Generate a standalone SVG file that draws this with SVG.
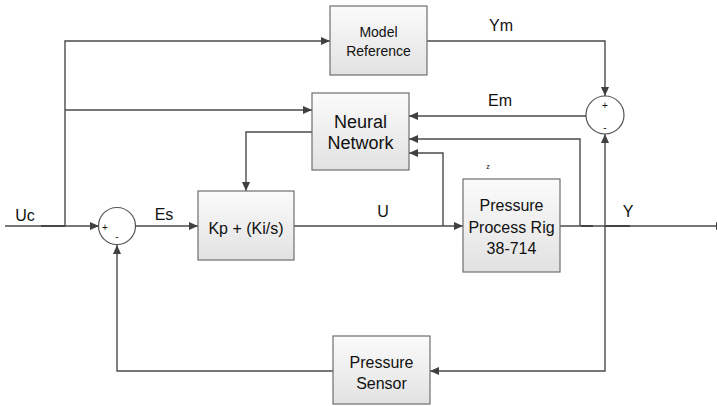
<svg xmlns="http://www.w3.org/2000/svg" width="717" height="406" viewBox="0 0 717 406">
<defs>
<linearGradient id="g" x1="0" y1="0" x2="0" y2="1">
<stop offset="0" stop-color="#fbfbfb"/>
<stop offset="1" stop-color="#e2e2e2"/>
</linearGradient>
<marker id="a" markerWidth="10" markerHeight="8" refX="9" refY="4" orient="auto" markerUnits="userSpaceOnUse">
<path d="M0,0 L9,4 L0,8 Z" fill="#404040"/>
</marker>
<style>
.box{fill:url(#g);stroke:#6e6e6e;stroke-width:1.2}
.sum{fill:#fff;stroke:#555;stroke-width:1.2}
.c{fill:none;stroke:#4a4a4a;stroke-width:1.4}
.c path.ar{marker-end:url(#a)}
text{font-family:"Liberation Sans",Arial,sans-serif;fill:#111;text-anchor:middle}
.bt{font-size:16px}
.lb{font-size:16px}
.sg{font-size:10px}
</style>
</defs>
<rect width="717" height="406" fill="#fff"/>
<g id="connectors" class="c">
<path class="ar" d="M5 226 H99"/>
<path d="M41 226 H65" stroke="#333"/>
<path class="ar" d="M65 226 V41 H330"/>
<path class="ar" d="M65 110 H312"/>
<path class="ar" d="M312 132 H246 V191"/>
<path class="ar" d="M136 226 H198"/>
<path class="ar" d="M294 226 H463"/>
<path class="ar" d="M560 226 H725"/>
<path d="M581 226 H593 M605 226 H630" stroke="#333"/>
<path class="ar" d="M427 41 H605 V96"/>
<path class="ar" d="M586 116 H409"/>
<path class="ar" d="M580 226 V139 H409"/>
<path class="ar" d="M443 226 V153 H409"/>
<path class="ar" d="M605 226 V134"/>
<path class="ar" d="M605 226 V371 H430"/>
<path class="ar" d="M333 371 H117 V245"/>
</g>
<g id="model-reference">
<rect class="box" x="330" y="6" width="97" height="69"/>
<text x="378.5" y="37" font-size="14">Model</text>
<text x="378.5" y="56" font-size="14">Reference</text>
</g>
<g id="neural-network">
<rect class="box" x="312" y="93" width="97" height="77"/>
<text x="360.5" y="128" font-size="18">Neural</text>
<text x="360.5" y="149" font-size="18">Network</text>
</g>
<g id="controller">
<rect class="box" x="198" y="191" width="96" height="69"/>
<text class="bt" x="246" y="234">Kp + (Ki/s)</text>
</g>
<g id="process-rig">
<rect class="box" x="463" y="179" width="97" height="93"/>
<text class="bt" x="511.5" y="211">Pressure</text>
<text class="bt" x="511.5" y="233">Process Rig</text>
<text class="bt" x="511.5" y="254">38-714</text>
<text x="488" y="169" font-size="7">z</text>
</g>
<g id="pressure-sensor">
<rect class="box" x="333" y="336" width="97" height="68"/>
<text class="bt" x="381.5" y="368">Pressure</text>
<text class="bt" x="381.5" y="389">Sensor</text>
</g>
<g id="sum-left">
<circle class="sum" cx="117" cy="226" r="18.5"/>
<text class="sg" x="105" y="231">+</text>
<text class="sg" x="117" y="240">-</text>
</g>
<g id="sum-right">
<circle class="sum" cx="605" cy="115" r="19"/>
<text class="sg" x="605" y="109">+</text>
<text class="sg" x="605" y="131">-</text>
</g>
<g id="labels">
<text class="lb" x="25" y="221">Uc</text>
<text class="lb" x="164" y="220">Es</text>
<text class="lb" x="383" y="217">U</text>
<text class="lb" x="628" y="217">Y</text>
<text class="lb" x="501" y="31">Ym</text>
<text class="lb" x="500" y="106">Em</text>
</g>
</svg>
